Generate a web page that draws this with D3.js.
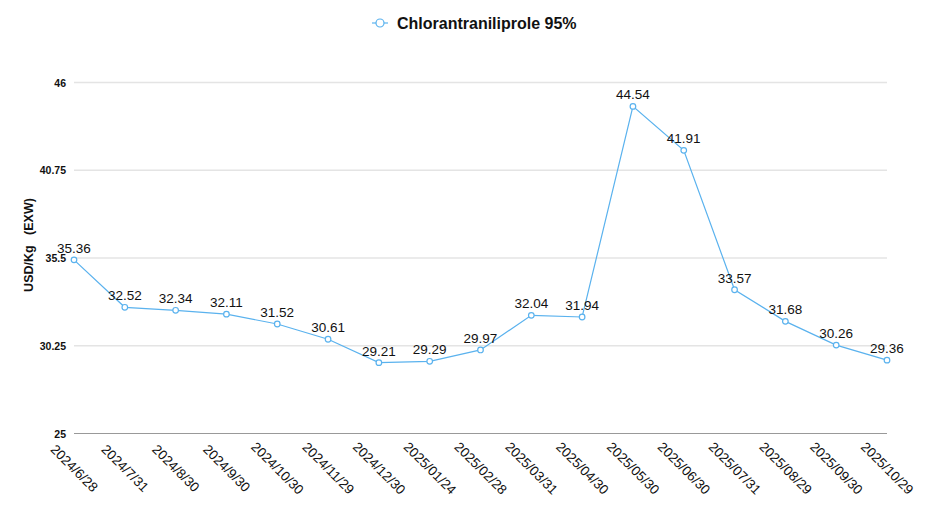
<!DOCTYPE html>
<html><head><meta charset="utf-8">
<script src="https://cdn.jsdelivr.net/npm/d3@7"></script>
<style>
html,body{margin:0;padding:0;background:#fff;}
svg{display:block;font-family:"Liberation Sans",Arial,Helvetica,sans-serif;}
</style></head>
<body>
<svg id="chart" width="931" height="523"></svg>
<script>
const categories = ["2024/6/28","2024/7/31","2024/8/30","2024/9/30","2024/10/30","2024/11/29","2024/12/30","2025/01/24","2025/02/28","2025/03/31","2025/04/30","2025/05/30","2025/06/30","2025/07/31","2025/08/29","2025/09/30","2025/10/29"];
const values = [35.36,32.52,32.34,32.11,31.52,30.61,29.21,29.29,29.97,32.04,31.94,44.54,41.91,33.57,31.68,30.26,29.36];
const yTicks = [25,30.25,35.5,40.75,46];
const seriesName = "Chlorantraniliprole 95%";
const yTitle = "USD/Kg\u00A0\u00A0\u00A0(EXW)";

const svg = d3.select("#chart");
const color = "#5ab2ee";
const x = d3.scalePoint().domain(categories).range([74, 887]);
const y = d3.scaleLinear().domain([25, 46]).range([433, 82]);

// gridlines
const yAxis = d3.axisLeft(y).tickValues(yTicks).tickSize(-(887 - 74)).tickPadding(8).tickFormat(d => d);
const gy = svg.append("g").attr("transform", "translate(74,0)").call(yAxis);
gy.select(".domain").remove();
gy.selectAll(".tick line").attr("stroke", d => d === 25 ? "#999" : "#e4e4e4").attr("stroke-width", d => d === 25 ? 1.2 : 1.5);
gy.selectAll(".tick text").attr("font-size", 10.5).attr("font-weight", "bold").attr("fill", "#111")
  .attr("font-family", "'Liberation Sans',Arial,sans-serif").attr("x", -8).attr("dy", "0.4em");

// x labels
const xAxis = d3.axisBottom(x).tickSize(0).tickFormat(d => d);
const gx = svg.append("g").attr("transform", "translate(0,433)").call(xAxis);
gx.select(".domain").remove();
gx.selectAll(".tick text")
  .attr("font-size", 13.5).attr("fill", "#111")
  .attr("font-family", "'Liberation Sans',Arial,sans-serif")
  .attr("text-anchor", "middle").attr("dy", null).attr("y", null)
  .attr("dominant-baseline", "middle")
  .attr("transform", "translate(-1,36) rotate(45)");

// line
const line = d3.line().x((d, i) => x(categories[i])).y(d => y(d));
svg.append("path").datum(values).attr("d", line).attr("fill", "none").attr("stroke", color).attr("stroke-width", 1.2);

svg.append("g").selectAll("circle").data(values).join("circle")
  .attr("cx", (d, i) => x(categories[i])).attr("cy", d => y(d)).attr("r", 2.8)
  .attr("fill", "#fff").attr("stroke", color).attr("stroke-width", 1.2);

svg.append("g").selectAll("text").data(values).join("text")
  .attr("x", (d, i) => x(categories[i])).attr("y", d => y(d) - 7)
  .attr("text-anchor", "middle").attr("font-size", 13.5).attr("fill", "#111")
  .text(d => d.toFixed(2));

// y title
svg.append("text").attr("transform", "translate(33,245) rotate(-90)")
  .attr("text-anchor", "middle").attr("font-size", 12.5).attr("font-weight", "bold").attr("fill", "#111")
  .text(yTitle);

// legend
const lg = svg.append("g");
lg.append("line").attr("x1", 372).attr("x2", 388).attr("y1", 23).attr("y2", 23).attr("stroke", color).attr("stroke-width", 1.2);
lg.append("circle").attr("cx", 380).attr("cy", 23).attr("r", 4).attr("fill", "#fff").attr("stroke", color).attr("stroke-width", 1.2);
lg.append("text").attr("x", 397).attr("y", 29).attr("font-size", 16).attr("font-weight", "bold").attr("fill", "#111").text(seriesName);
</script>
</body></html>
